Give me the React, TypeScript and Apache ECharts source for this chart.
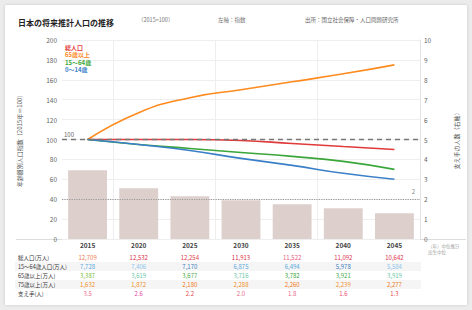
import React, { useEffect, useRef } from "react";
import * as echarts from "echarts";

const years = ["2015", "2020", "2025", "2030", "2035", "2040", "2045"];
const totalIdx = [100, 100, 100, 99, 96, 93, 90];
const elderIdx = [100, 127, 142, 150, 158, 166, 175];
const workIdx = [100, 95, 91, 87, 83, 78, 70];
const childIdx = [100, 95, 89, 81, 74, 66, 60];
const ratioBars = [3.45, 2.55, 2.15, 1.95, 1.75, 1.55, 1.3];

const rowLabels = ["総人口(万人)", "15〜64歳人口(万人)", "65歳以上(万人)", "75歳以上(万人)", "支え手(人)"];
const rowTotal = ["12,709", "12,532", "12,254", "11,913", "11,522", "11,092", "10,642"];
const rowWork = ["7,728", "7,406", "7,170", "6,875", "6,494", "5,978", "5,584"];
const rowElder = ["3,387", "3,619", "3,677", "3,716", "3,782", "3,921", "3,919"];
const rowOld = ["1,632", "1,872", "2,180", "2,288", "2,260", "2,239", "2,277"];
const rowSupport = ["3.5", "2.6", "2.2", "2.0", "1.8", "1.6", "1.3"];

const seriesNames = ["総人口", "65歳以上", "15〜64歳", "0〜14歳"];
const seriesColors = ["#e03a3a", "#ff8a1e", "#3aa63a", "#3a7fc8"];

const FONT = "'Noto Sans CJK JP', 'Noto Sans', sans-serif";

export default function App() {
  const ref = useRef<HTMLDivElement>(null);
  useEffect(() => {
    document.body.style.margin = "0";
    const chart = echarts.init(ref.current!, null, { renderer: "svg" });
    const rowDefs = [
      { data: rowTotal, colors: ["#f07a50", "#e0304a", "#e0404a", "#e0304a", "#e85a7a", "#e0304a", "#e0304a"], off: 15.5 },
      { data: rowWork, colors: ["#5aa8dc", "#8cc4e8", "#3a7cc0", "#5aa8dc", "#5aa8dc", "#3a7cc0", "#8cc4e8"], off: 24.5 },
      { data: rowElder, colors: ["#7cc040", "#6cc8a8", "#4aaa4a", "#6cc8a8", "#3aa63a", "#4aaa4a", "#6cc8a8"], off: 33.5 },
      { data: rowOld, colors: ["#f0902a", "#f0902a", "#f07a20", "#f0902a", "#f07a20", "#f0902a", "#f07a20"], off: 42.5 },
      { data: rowSupport, colors: ["#e86a8a", "#e84aa0", "#e84a4a", "#e86a8a", "#e86a8a", "#e84a6a", "#e84a4a"], off: 51.5 },
    ];
    const rowAxes = rowDefs.map((r) => ({
      type: "category",
      data: r.data,
      position: "bottom",
      offset: r.off,
      gridIndex: 0,
      axisLine: { show: false },
      axisTick: { show: false },
      splitLine: { show: false },
      axisLabel: {
        margin: 0,
        fontSize: 6,
        fontFamily: FONT,
        interval: 0,
        color: (_v: any, i: number) => r.colors[i],
      },
    }));
    const textStyle = { fontFamily: FONT };
    chart.setOption({
      animation: false,
      textStyle,
      grid: { left: 62, right: 52, top: 40, bottom: 71 },
      legend: {
        orient: "vertical",
        left: 64,
        top: 44,
        itemGap: 1.5,
        itemWidth: 0,
        itemHeight: 6,
        icon: "none",
        padding: 0,
        textStyle: { fontSize: 6, fontWeight: "bold", fontFamily: FONT, padding: [0, 0, 0, -4], lineHeight: 6 },
        data: seriesNames.map((n, i) => ({ name: n, textStyle: { color: seriesColors[i] } })),
      },
      xAxis: [
        {
          type: "category",
          data: years,
          boundaryGap: true,
          axisLine: { show: false },
          axisTick: { show: false },
          axisLabel: { margin: 3, fontSize: 6.5, fontWeight: "bold", color: "#444", fontFamily: FONT },
          splitLine: {
            show: true,
            interval: (i: number) => i % 2 === 1,
            lineStyle: { color: "#eeeeee", width: 1 },
          },
        },
        ...rowAxes,
      ],
      yAxis: [
        {
          type: "value",
          min: 0,
          max: 200,
          interval: 20,
          name: "年齢層別人口指数（2015年＝100）",
          nameLocation: "middle",
          nameGap: 40,
          nameTextStyle: { fontSize: 6, color: "#555", fontFamily: FONT },
          axisLine: { show: false },
          axisTick: { show: false },
          axisLabel: { fontSize: 6.5, color: "#666", margin: 5 },
          splitLine: { lineStyle: { color: "#eeeeee" } },
        },
        {
          type: "value",
          min: 0,
          max: 10,
          interval: 1,
          position: "right",
          name: "支え手の人数（右軸）",
          nameLocation: "middle",
          nameGap: 33,
          nameTextStyle: { fontSize: 6, color: "#555", fontFamily: FONT },
          axisLine: { show: true, lineStyle: { color: "#e2e2e2" } },
          axisTick: { show: false },
          axisLabel: { fontSize: 6.5, color: "#666", margin: 4 },
          splitLine: { show: false },
        },
      ],
      series: [
        {
          name: "支え手",
          type: "bar",
          yAxisIndex: 1,
          data: ratioBars,
          barCategoryGap: "24%",
          itemStyle: { color: "#ddd0cc" },
          markLine: {
            silent: true,
            symbol: "none",
            lineStyle: { color: "#999", type: "dotted", width: 1.2 },
            label: { position: "insideEndTop", fontSize: 6, color: "#888", formatter: "2" },
            data: [{ yAxis: 2 }],
          },
        },
        {
          name: seriesNames[0],
          type: "line",
          smooth: true,
          symbol: "none",
          data: totalIdx,
          lineStyle: { color: seriesColors[0], width: 1.6 },
          itemStyle: { color: seriesColors[0] },
          markLine: {
            silent: true,
            symbol: "none",
            lineStyle: { color: "#777", type: [5, 4], width: 1.4 },
            label: { position: "insideStartTop", fontSize: 6, color: "#666", formatter: "100", distance: 2 },
            data: [{ yAxis: 100 }],
          },
        },
        {
          name: seriesNames[1],
          type: "line",
          smooth: true,
          symbol: "none",
          data: elderIdx,
          lineStyle: { color: seriesColors[1], width: 1.6 },
          itemStyle: { color: seriesColors[1] },
        },
        {
          name: seriesNames[2],
          type: "line",
          smooth: true,
          symbol: "none",
          data: workIdx,
          lineStyle: { color: seriesColors[2], width: 1.6 },
          itemStyle: { color: seriesColors[2] },
        },
        {
          name: seriesNames[3],
          type: "line",
          smooth: true,
          symbol: "none",
          data: childIdx,
          lineStyle: { color: seriesColors[3], width: 1.6 },
          itemStyle: { color: seriesColors[3] },
        },
      ],
      graphic: [
        { type: "rect", z: -10, shape: { x: 15, y: 262, width: 406, height: 9 }, style: { fill: "#f5f5f5" } },
        { type: "rect", z: -10, shape: { x: 15, y: 280, width: 406, height: 9 }, style: { fill: "#f5f5f5" } },
        { type: "line", shape: { x1: 16, y1: 239.5, x2: 466, y2: 239.5 }, style: { stroke: "#dddddd", lineWidth: 1 } },
        {
          type: "text",
          x: 18,
          y: 22,
          style: { text: "日本の将来推計人口の推移", font: `bold 8px ${FONT}`, fill: "#222", verticalAlign: "middle" },
        },
        {
          type: "text",
          x: 138,
          y: 20,
          style: { text: "（2015=100）", font: `5.5px ${FONT}`, fill: "#777", verticalAlign: "middle" },
        },
        {
          type: "text",
          x: 218,
          y: 20,
          style: { text: "左軸：指数", font: `5.5px ${FONT}`, fill: "#777", verticalAlign: "middle" },
        },
        {
          type: "text",
          x: 305,
          y: 20,
          style: { text: "出所：国立社会保障・人口問題研究所", font: `5.5px ${FONT}`, fill: "#666", verticalAlign: "middle" },
        },
        {
          type: "text",
          x: 428,
          y: 249,
          style: { text: "（年）中位推計\n出生中位", font: `4.5px ${FONT}`, fill: "#999", verticalAlign: "middle", lineHeight: 6 },
        },
        ...rowLabels.map((t, i) => ({
          type: "text",
          x: 18,
          y: 258 + i * 9,
          style: { text: t, font: `5.5px ${FONT}`, fill: "#333", verticalAlign: "middle" },
        })),
      ],
    });
    return () => chart.dispose();
  }, []);
  return (
    <div style={{ position: "relative", width: 472, height: 310, background: "#ececec", overflow: "hidden" }}>
      <div
        style={{
          position: "absolute",
          left: 5,
          top: 5,
          width: 462,
          height: 300,
          background: "#fff",
          boxShadow: "0 0 3px rgba(0,0,0,0.15)",
        }}
      />
      <div ref={ref} style={{ position: "absolute", left: 0, top: 0, width: 472, height: 310 }} />
    </div>
  );
}
